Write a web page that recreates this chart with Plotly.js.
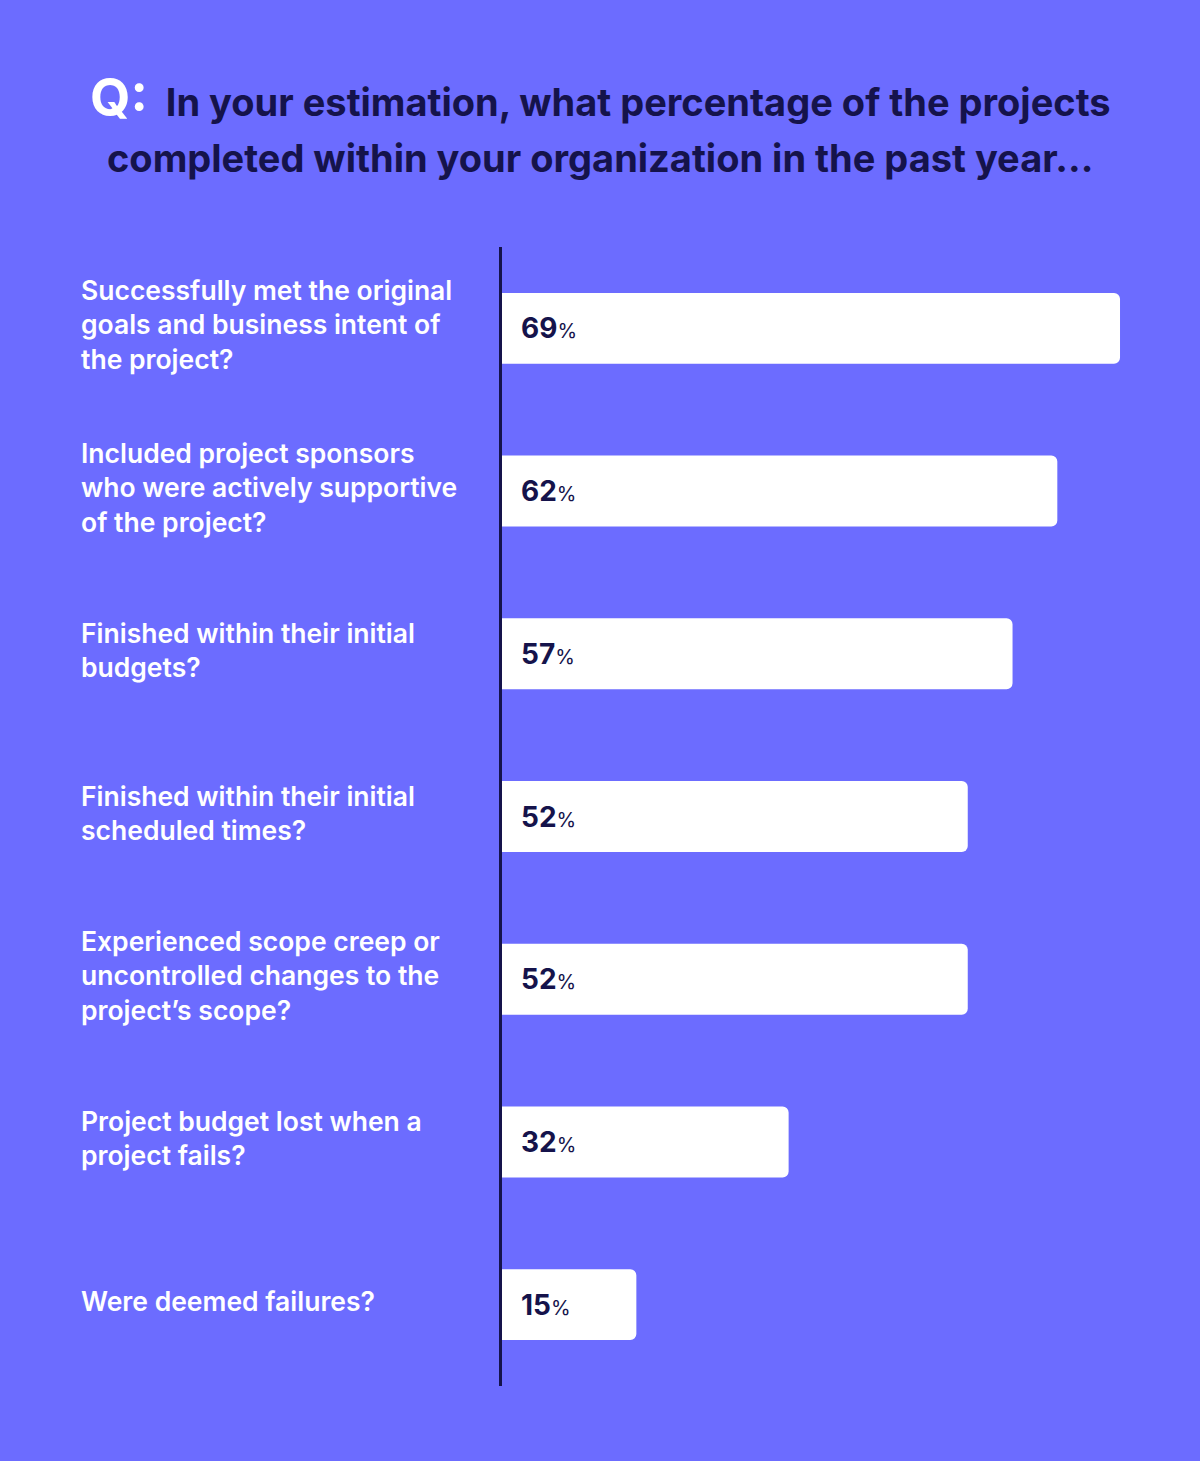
<!DOCTYPE html>
<html>
<head>
<meta charset="utf-8">
<script src="https://cdn.plot.ly/plotly-3.0.1.min.js"></script>
<style>
html,body{margin:0;padding:0;background:#6c6cff;}
#chart{width:1200px;height:1461px;}
</style>
</head>
<body>
<div id="chart"></div>
<script>
const categories = [
  "Successfully met the original<br>goals and business intent of<br>the project?",
  "Included project sponsors<br>who were actively supportive<br>of the project?",
  "Finished within their initial<br>budgets?",
  "Finished within their initial<br>scheduled times?",
  "Experienced scope creep or<br>uncontrolled changes to the<br>project’s scope?",
  "Project budget lost when a<br>project fails?",
  "Were deemed failures?"
];
const values = [69, 62, 57, 52, 52, 32, 15];
const titleLines = [
  "In your estimation, what percentage of the projects",
  "completed within your organization in the past year..."
];

const BG = "#6c6cff";
const DARK = "#15134b";
const FONT = "Inter, Lato, sans-serif";

const trace = {
  type: "bar",
  orientation: "h",
  y: categories,
  x: values,
  marker: {color: "#ffffff", cornerradius: 6, line: {width: 0}},
  hoverinfo: "skip",
  showlegend: false
};

const annotations = [];
categories.forEach((c, i) => {
  annotations.push({
    xref: "paper", yref: "y", x: (79 - 502) / 698, y: c, yshift: 4,
    xanchor: "left", yanchor: "middle", align: "left",
    text: c, showarrow: false,
    font: {family: FONT, size: 26.5, color: "#ffffff", weight: 600}
  });
  annotations.push({
    xref: "x", yref: "y", x: 0, y: c, xshift: 17,
    xanchor: "left", yanchor: "middle", align: "left",
    text: "<b>" + values[i] + "</b><span style='font-size:20px;font-weight:400'>%</span>",
    showarrow: false,
    font: {family: FONT, size: 28, color: DARK}
  });
});
const titleY = [97, 158];
annotations.push({
  xref: "paper", yref: "paper", x: (600 - 502) / 698, y: 1 + (247 - titleY[0]) / 1139,
  xanchor: "center", yanchor: "middle", align: "center",
  text: "<span style='color:#ffffff;font-size:52px'>Q:</span>  " + titleLines[0],
  showarrow: false,
  font: {family: FONT, size: 38, color: DARK, weight: 700}
});
annotations.push({
  xref: "paper", yref: "paper", x: (600 - 502) / 698, y: 1 + (247 - titleY[1]) / 1139,
  xanchor: "center", yanchor: "middle", align: "center",
  text: titleLines[1],
  showarrow: false,
  font: {family: FONT, size: 38, color: DARK, weight: 700}
});

const layout = {
  width: 1200, height: 1461,
  paper_bgcolor: BG, plot_bgcolor: BG,
  margin: {l: 502, r: 0, t: 247, b: 75},
  bargap: 0.564,
  xaxis: {range: [0, 77.93], visible: false, fixedrange: true},
  yaxis: {
    autorange: "reversed", showticklabels: false, ticks: "",
    showgrid: false, zeroline: false,
    showline: true, linecolor: DARK, linewidth: 3
  },
  annotations: annotations,
  font: {family: FONT}
};

Plotly.newPlot("chart", [trace], layout, {displayModeBar: false, staticPlot: true});
</script>
</body>
</html>
